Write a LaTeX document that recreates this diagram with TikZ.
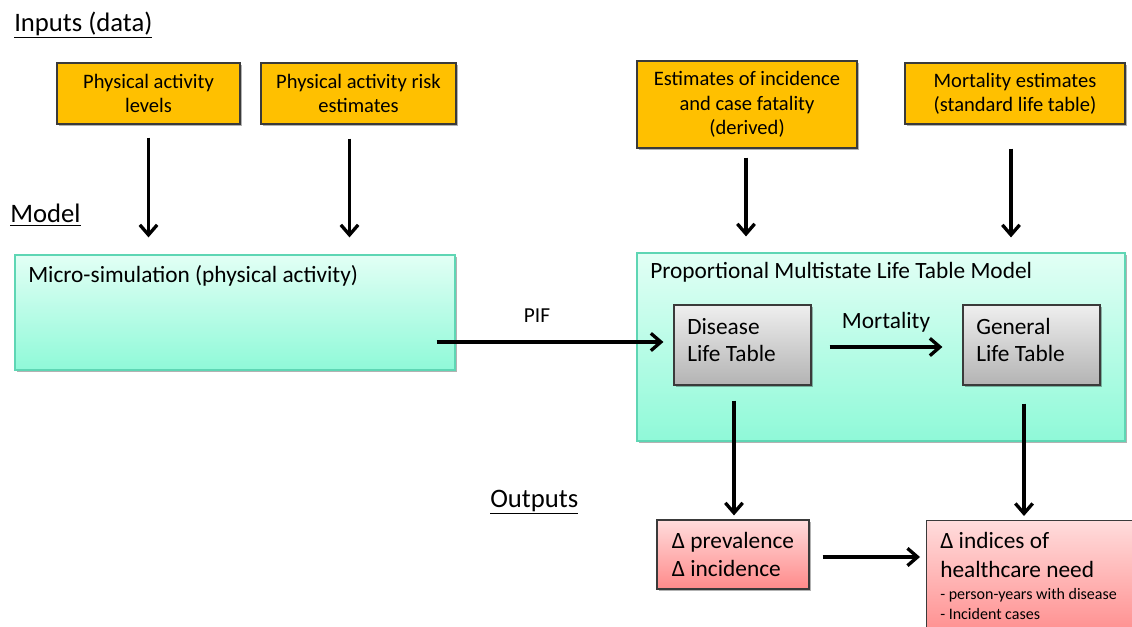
\documentclass[tikz,border=0pt]{standalone}
\usepackage{fontspec}
\setmainfont{Carlito}
\usetikzlibrary{arrows.meta,shadows,calc}
\definecolor{orangefill}{HTML}{FFC000}
\definecolor{boxline}{HTML}{3A3A3A}
\definecolor{minttop}{HTML}{E2FFF5}
\definecolor{mintbot}{HTML}{8FF9D8}
\definecolor{mintline}{HTML}{5ED6B4}
\definecolor{greytop}{HTML}{EFEFEF}
\definecolor{greybot}{HTML}{B3B3B3}
\definecolor{pinktop}{HTML}{FFDCDC}
\definecolor{pinkbot}{HTML}{FF8A8A}
\begin{document}
\begin{tikzpicture}[x=0.75pt,y=-0.75pt,
  shad/.style={drop shadow={shadow xshift=1.5pt,shadow yshift=-1.5pt,opacity=0.3,fill=black}},
  inbox/.style={draw=boxline,line width=0.9pt,fill=orangefill,align=center,inner sep=0pt,
     font=\fontsize{15.4}{18.3}\selectfont,shad},
  mintbox/.style={draw=mintline,line width=0.9pt,top color=minttop,bottom color=mintbot,inner sep=0pt,shad},
  greybox/.style={draw=boxline,line width=0.9pt,top color=greytop,bottom color=greybot,inner sep=0pt,shad},
  pinkbox/.style={draw=boxline,line width=0.9pt,top color=pinktop,bottom color=pinkbot,
     align=left,inner sep=0pt,font=\fontsize{17.5}{21.3}\selectfont,shad},
  txt/.style={inner sep=0pt,font=\fontsize{17.5}{21.3}\selectfont},
  ltxt/.style={inner sep=0pt,align=left,font=\fontsize{17.5}{20.5}\selectfont},
  head/.style={inner sep=0pt,font=\fontsize{20}{24}\selectfont},
  arr/.style={line width=2.5pt,-{Straight Barb[length=7.5pt,width=13pt,line width=2.5pt]}}
]
\useasboundingbox (0,0) rectangle (1132,627);

% headings
\node[head,anchor=west] (hin) at (14,25) {\underline{Inputs (data)}};
\node[head,anchor=west] (hmod) at (10,215) {\underline{Model}};
\node[head,anchor=west] (hout) at (490,502) {\underline{Outputs}};

% inputs
\node[inbox,minimum width=183*0.75pt,minimum height=61*0.75pt] (o1) at (148.5,93.5)
  {Physical activity\\levels};
\node[inbox,minimum width=195*0.75pt,minimum height=61*0.75pt] (o2) at (358.5,93.5)
  {Physical activity risk\\estimates};
\node[inbox,minimum width=220*0.75pt,minimum height=87*0.75pt] (o3) at (747,104.5)
  {Estimates of incidence\\and case fatality\\(derived)};
\node[inbox,minimum width=220*0.75pt,minimum height=61*0.75pt] (o4) at (1015,93.5)
  {Mortality estimates\\(standard life table)};

% model boxes
\node[mintbox,minimum width=440*0.75pt,minimum height=115*0.75pt] (micro) at (235,312.5) {};
\node[txt,anchor=west] (microt) at (28,276) {Micro-simulation (physical activity)};
\node[mintbox,minimum width=488*0.75pt,minimum height=188*0.75pt] (pmlt) at (881,347) {};
\node[txt,anchor=west] (pmltt) at (650,272) {Proportional Multistate Life Table Model};
\node[greybox,minimum width=137*0.75pt,minimum height=80*0.75pt] (dis) at (742.5,345) {};
\node[ltxt,anchor=west] (dist) at (687,340) {Disease\\Life Table};
\node[greybox,minimum width=137*0.75pt,minimum height=80*0.75pt] (gen) at (1031.5,345) {};
\node[ltxt,anchor=west] (gent) at (976,340) {General\\Life Table};

% outputs
\node[pinkbox,minimum width=152*0.75pt,minimum height=69*0.75pt] (p1) at (733,554.5)
  {Δ prevalence\\Δ incidence};
\node[pinkbox,anchor=north west,minimum width=215*0.75pt,minimum height=120*0.75pt] (p2) at (926,520) {};
\node[ltxt,anchor=north west,font=\fontsize{17.5}{21.5}\selectfont] (p2t) at (940,532) {Δ indices of\\healthcare need};
\node[inner sep=0pt,anchor=north west,align=left,font=\fontsize{12}{15}\selectfont] (p2s) at (940,588)
  {- person-years with disease\\- Incident cases};

% arrows
\draw[arr,shorten <=13*0.75pt,shorten >=17*0.75pt] (o1.south) -- (o1.south |- micro.north);
\draw[arr,shorten <=14*0.75pt,shorten >=17*0.75pt] ($(o2.south)+(-9,0)$) -- ($(o2.south |- micro.north)+(-9,0)$);
\draw[arr,shorten <=9*0.75pt,shorten >=16*0.75pt] ($(o3.south)+(-1,0)$) -- ($(o3.south |- pmlt.north)+(-1,0)$);
\draw[arr,shorten <=24*0.75pt,shorten >=15*0.75pt] ($(o4.south)+(-4,0)$) -- ($(o4.south |- pmlt.north)+(-4,0)$);

\draw[arr,shorten >=10*0.75pt] ($(micro.east |- dis.west)+(-19,-3)$) -- ($(dis.west)+(0,-3)$);
\node[txt,font=\fontsize{16}{19}\selectfont] (pif) at (537,316) {PIF};
\draw[arr,shorten <=18*0.75pt,shorten >=20*0.75pt] ($(dis.east)+(0,2)$) -- ($(gen.west)+(0,2)$);
\node[txt] (mort) at (886,322) {Mortality};

\draw[arr,shorten <=15*0.75pt,shorten >=4*0.75pt] ($(dis.south)+(-8.5,0)$) -- ($(dis.south |- p1.north)+(-8.5,0)$);
\draw[arr,shorten <=18*0.75pt,shorten >=4*0.75pt] ($(gen.south)+(-7.5,0)$) -- ($(gen.south |- p2.north)+(-7.5,0)$);
\draw[arr,shorten <=13*0.75pt,shorten >=6*0.75pt] ($(p1.east)+(0,2.5)$) -- ($(p1.east -| p2.west)+(0,2.5)$);
\end{tikzpicture}
\end{document}
